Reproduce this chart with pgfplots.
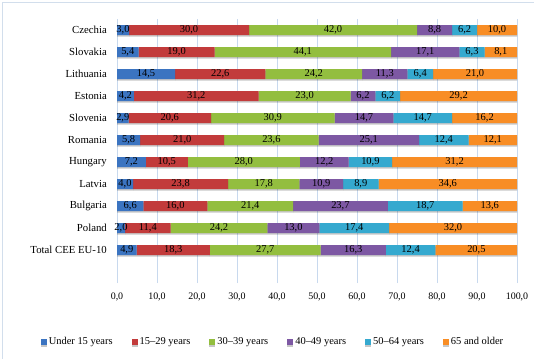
\documentclass[border=0pt]{standalone}
\usepackage{fontspec}
\setmainfont{Liberation Serif}
\usepackage{pgfplots}
\usepackage{pgfplotstable}
\pgfplotsset{compat=1.18}
\definecolor{cA}{HTML}{3B74C1}
\definecolor{cB}{HTML}{C23B3B}
\definecolor{cC}{HTML}{93BE3F}
\definecolor{cD}{HTML}{7D58A3}
\definecolor{cE}{HTML}{35A9CF}
\definecolor{cF}{HTML}{F88D25}
\definecolor{gridc}{RGB}{200,217,238}
\definecolor{framec}{RGB}{210,222,236}
\pgfplotstableread{
y a b c d e f
11 3.0 30.0 42.0 8.8 6.2 10.0
10 5.4 19.0 44.1 17.1 6.3 8.1
9 14.5 22.6 24.2 11.3 6.4 21.0
8 4.2 31.2 23.0 6.2 6.2 29.2
7 2.9 20.6 30.9 14.7 14.7 16.2
6 5.8 21.0 23.6 25.1 12.4 12.1
5 7.2 10.5 28.0 12.2 10.9 31.2
4 4.0 23.8 17.8 10.9 8.9 34.6
3 6.6 16.0 21.4 23.7 18.7 13.6
2 2.0 11.4 24.2 13.0 17.4 32.0
1 4.9 18.3 27.7 16.3 12.4 20.5
}\data
% label positions: middle of each stacked segment, computed from the data
\pgfplotstablecreatecol[expr={\thisrow{a}/2}]{ma}{\data}
\pgfplotstablecreatecol[expr={\thisrow{a}+\thisrow{b}/2}]{mb}{\data}
\pgfplotstablecreatecol[expr={\thisrow{a}+\thisrow{b}+\thisrow{c}/2}]{mc}{\data}
\pgfplotstablecreatecol[expr={\thisrow{a}+\thisrow{b}+\thisrow{c}+\thisrow{d}/2}]{md}{\data}
\pgfplotstablecreatecol[expr={\thisrow{a}+\thisrow{b}+\thisrow{c}+\thisrow{d}+\thisrow{e}/2}]{me}{\data}
\pgfplotstablecreatecol[expr={\thisrow{a}+\thisrow{b}+\thisrow{c}+\thisrow{d}+\thisrow{e}+\thisrow{f}/2}]{mf}{\data}
\pgfplotsset{
  commonax/.style={
    at={(117bp,-19bp)}, anchor=north west,
    scale only axis, width=400bp, height=264bp,
    xmin=0, xmax=100, ymin=-0.5, ymax=11.5},
  lab/.style={draw=none, mark=none, nodes near coords, point meta=explicit},
}
\begin{document}
\begin{tikzpicture}
\useasboundingbox (0,0) rectangle (534bp,-359bp);
\fill[white] (0,0) rectangle (534bp,-359bp);
\draw[framec, line width=1bp] (2.5bp,-2bp) rectangle (545bp,-370bp);
\begin{axis}[
  commonax,
  xbar stacked, bar width=10bp,
  axis line style={draw=none},
  major tick length=0pt,
  xtick={0,10,...,100},
  xmajorgrids, grid style={gridc, line width=0.8bp},
  ytick={1,...,11},
  yticklabels={Total CEE EU-10,Poland,Bulgaria,Latvia,Hungary,Romania,Slovenia,Estonia,Lithuania,Slovakia,Czechia},
  yticklabel style={anchor=east, inner sep=0pt, xshift=-10bp, font=\fontsize{10.8}{12}\selectfont},
  xticklabel style={anchor=center, yshift=-14bp, font=\fontsize{10}{12}\selectfont,
    /pgf/number format/fixed, /pgf/number format/fixed zerofill, /pgf/number format/precision=1,
    /pgf/number format/use comma, /pgf/number format/assume math mode=true},
  legend columns=6,
  legend style={draw=none, fill=none, at={(axis description cs:0.39,-0.2235)}, anchor=center,
    font=\fontsize{10.5}{12}\selectfont, inner sep=0pt,
    /tikz/every even column/.append style={column sep=17bp}},
  legend image code/.code={\fill[#1] (0bp,-3bp) rectangle (6bp,3bp);},
  shd/.style={preaction={fill=black, fill opacity=0.22, transform canvas={yshift=-1.6bp}}},
]
\addplot[fill=cA, draw=none, shd] table[x=a, y=y] {\data};
\addplot[fill=cB, draw=none, shd] table[x=b, y=y] {\data};
\addplot[fill=cC, draw=none, shd] table[x=c, y=y] {\data};
\addplot[fill=cD, draw=none, shd] table[x=d, y=y] {\data};
\addplot[fill=cE, draw=none, shd] table[x=e, y=y] {\data};
\addplot[fill=cF, draw=none, shd] table[x=f, y=y] {\data};
\legend{Under 15 years, 15--29 years, 30--39 years, 40--49 years, 50--64 years, 65 and older}
\end{axis}
\begin{axis}[
  commonax, hide axis,
  nodes near coords style={anchor=center, inner sep=0pt, text=black,
    font=\fontsize{10.5}{12}\selectfont,
    /pgf/number format/fixed, /pgf/number format/fixed zerofill, /pgf/number format/precision=1,
    /pgf/number format/use comma, /pgf/number format/assume math mode=true},
]
\addplot[lab] table[x=ma, y=y, meta=a] {\data};
\addplot[lab] table[x=mb, y=y, meta=b] {\data};
\addplot[lab] table[x=mc, y=y, meta=c] {\data};
\addplot[lab] table[x=md, y=y, meta=d] {\data};
\addplot[lab] table[x=me, y=y, meta=e] {\data};
\addplot[lab] table[x=mf, y=y, meta=f] {\data};
\end{axis}
\end{tikzpicture}
\end{document}
